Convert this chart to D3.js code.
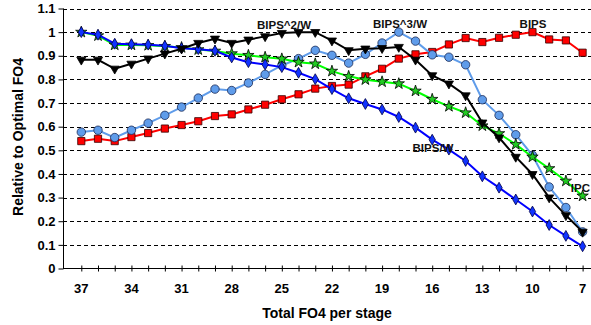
<!DOCTYPE html>
<html>
<head>
<meta charset="utf-8">
<script src="https://cdn.jsdelivr.net/npm/d3@7"></script>
<style>
  body { margin: 0; background: #fff; }
  svg { display: block; font-family: "Liberation Sans", Arial, sans-serif; }
</style>
</head>
<body>
<svg class="fo4-chart" width="591" height="325"></svg>
<script>
// total FO4 per stage, read left to right
const fo4 = [37, 36, 35, 34, 33, 32, 31, 30, 29, 28, 27, 26, 25, 24, 23, 22,
  21, 20, 19, 18, 17, 16, 15, 14, 13, 12, 11, 10, 9, 8, 7];

const bips = [0.539, 0.549, 0.539, 0.556, 0.573, 0.592, 0.607, 0.623, 0.645, 0.652,
  0.673, 0.693, 0.716, 0.737, 0.761, 0.772, 0.778, 0.813, 0.845, 0.888,
  0.906, 0.916, 0.948, 0.975, 0.958, 0.976, 0.989, 1.0, 0.969, 0.965, 0.913];

const bips3w = [0.577, 0.585, 0.554, 0.585, 0.615, 0.648, 0.683, 0.721, 0.759, 0.753,
  0.785, 0.821, 0.859, 0.888, 0.923, 0.902, 0.869, 0.906, 0.954, 1.0,
  0.962, 0.904, 0.894, 0.862, 0.714, 0.648, 0.566, 0.479, 0.345, 0.258, 0.155];

const bips2w = [0.883, 0.883, 0.845, 0.866, 0.888, 0.909, 0.930, 0.954, 0.972, 0.954,
  0.968, 0.982, 0.996, 1.0, 1.0, 0.964, 0.923, 0.930, 0.932, 0.937,
  0.883, 0.817, 0.782, 0.732, 0.617, 0.554, 0.472, 0.399, 0.300, 0.225, 0.155];

const ipc = [1.0, 0.985, 0.946, 0.946, 0.944, 0.940, 0.935, 0.926, 0.920, 0.909,
  0.902, 0.894, 0.887, 0.873, 0.866, 0.835, 0.813, 0.799, 0.790, 0.782,
  0.751, 0.716, 0.686, 0.659, 0.604, 0.571, 0.525, 0.472, 0.423, 0.370, 0.307];

const bipsw = [1.0, 0.989, 0.951, 0.949, 0.947, 0.942, 0.932, 0.928, 0.921, 0.893,
  0.873, 0.863, 0.852, 0.828, 0.801, 0.759, 0.720, 0.696, 0.673, 0.641,
  0.596, 0.545, 0.503, 0.455, 0.390, 0.342, 0.292, 0.241, 0.184, 0.138, 0.094];

const yTicks = [0, 0.1, 0.2, 0.3, 0.4, 0.5, 0.6, 0.7, 0.8, 0.9, 1, 1.1];
const xLabels = [37, 34, 31, 28, 25, 22, 19, 16, 13, 10, 7];

const d3 = window.d3;
const svg = d3.select(".fo4-chart");

const left = 63,
  right = 591,
  zeroY = 268.5,
  topY = 8.5;

const x = d3.scaleLinear().domain([37, 7]).range([81.3, 582.6]);
const y = d3.scaleLinear().domain([0, 1.1]).range([zeroY, topY]);

// dashed gridlines
svg.append("g")
  .selectAll("line")
  .data(yTicks.filter((t) => t > 0))
  .enter()
  .append("line")
  .attr("x1", left)
  .attr("x2", right)
  .attr("y1", (d) => Math.round(y(d)) + 0.5)
  .attr("y2", (d) => Math.round(y(d)) + 0.5)
  .attr("stroke", "#000")
  .attr("stroke-width", 1)
  .attr("stroke-dasharray", "4,3");

// y axis
const yAxis = svg.append("g")
  .attr("transform", `translate(${left + 0.5},0)`)
  .call(d3.axisLeft(y).tickValues(yTicks).tickSize(5).tickFormat(d3.format("~g")));
yAxis.select(".domain").attr("stroke", "#000").attr("d", `M0,${y(1.1)}V${zeroY}`);
yAxis.selectAll("text")
  .attr("x", -8)
  .style("font-size", "13px")
  .style("font-weight", "bold")
  .attr("fill", "#000");

// x axis
const xAxis = svg.append("g")
  .attr("transform", `translate(0,${zeroY})`)
  .call(d3.axisBottom(x).tickValues(fo4).tickSize(3).tickFormat(""));
xAxis.select(".domain").attr("stroke", "#000").attr("d", `M${left},0H${right}`);
xAxis.selectAll(".tick line").attr("y1", -3).attr("y2", 3);

svg.append("g")
  .selectAll("text")
  .data(xLabels)
  .enter()
  .append("text")
  .attr("x", (d) => x(d))
  .attr("y", 293)
  .attr("text-anchor", "middle")
  .style("font-size", "13px")
  .style("font-weight", "bold")
  .text((d) => d);

// axis titles
svg.append("text")
  .attr("x", 327)
  .attr("y", 318)
  .attr("text-anchor", "middle")
  .style("font-size", "14px")
  .style("font-weight", "bold")
  .text("Total FO4 per stage");

svg.append("text")
  .attr("transform", "translate(23,137) rotate(-90)")
  .attr("text-anchor", "middle")
  .style("font-size", "14px")
  .style("font-weight", "bold")
  .text("Relative to Optimal FO4");

const series = [
  { name: "BIPS", values: bips, line: "#ff0000", fill: "#ff0000", stroke: "#330000",
    symbol: d3.symbolSquare, size: 52, rotate: 0 },
  { name: "BIPS^3/W", values: bips3w, line: "#5f9cea", fill: "#5f9cea", stroke: "#1a2a55",
    symbol: d3.symbolCircle, size: 56, rotate: 0 },
  { name: "IPC", values: ipc, line: "#00ff00", fill: "#22cc22", stroke: "#000",
    symbol: d3.symbolStar, size: 40, rotate: 0 },
  { name: "BIPS/W", values: bipsw, line: "#0000ff", fill: "#1133ff", stroke: "#000044",
    symbol: d3.symbolDiamond, size: 34, rotate: 0 },
  { name: "BIPS^2/W", values: bips2w, line: "#000000", fill: "#000000", stroke: "#000",
    symbol: d3.symbolTriangle, size: 36, rotate: 180 },
];

const line = d3.line()
  .x((d) => x(d.fo4))
  .y((d) => y(d.v));

series.forEach((s) => {
  const pts = fo4.map((f, i) => ({ fo4: f, v: s.values[i] }));
  const g = svg.append("g");
  g.append("path")
    .datum(pts)
    .attr("fill", "none")
    .attr("stroke", s.line)
    .attr("stroke-width", 2)
    .attr("d", line);
  g.selectAll("path.mark")
    .data(pts)
    .enter()
    .append("path")
    .attr("class", "mark")
    .attr("d", d3.symbol().type(s.symbol).size(s.size))
    .attr("transform", (d) => `translate(${x(d.fo4)},${y(d.v)}) rotate(${s.rotate})`)
    .attr("fill", s.fill)
    .attr("stroke", s.stroke)
    .attr("stroke-width", 0.8);
});

// series labels
const labels = [
  { text: "BIPS^2/W", x: 284, y: 29, anchor: "middle" },
  { text: "BIPS^3/W", x: 400, y: 28, anchor: "middle" },
  { text: "BIPS", x: 533, y: 28, anchor: "middle" },
  { text: "BIPS/W", x: 433, y: 152, anchor: "middle" },
  { text: "IPC", x: 590, y: 192, anchor: "end" },
];
svg.append("g")
  .selectAll("text")
  .data(labels)
  .enter()
  .append("text")
  .attr("x", (d) => d.x)
  .attr("y", (d) => d.y)
  .attr("text-anchor", (d) => d.anchor)
  .style("font-size", "11.5px")
  .style("font-weight", "bold")
  .attr("fill", "#111")
  .text((d) => d.text);
</script>
</body>
</html>
